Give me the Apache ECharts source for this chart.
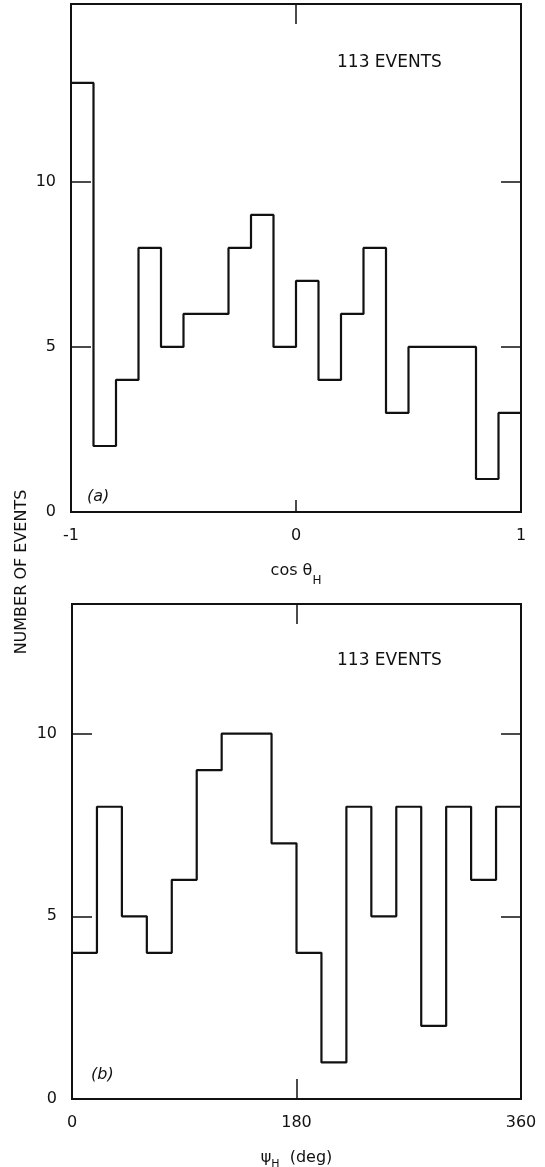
<!DOCTYPE html>
<html><head><meta charset="utf-8">
<script src="https://cdn.jsdelivr.net/npm/echarts@6/dist/echarts.min.js"></script>
<style>html,body{margin:0;padding:0;background:#fff}#c{width:545px;height:1167px}</style>
</head><body><div id="c"></div>
<script>
// ---- data ----
const cosEdges = [-1,-0.9,-0.8,-0.7,-0.6,-0.5,-0.4,-0.3,-0.2,-0.1,0,0.1,0.2,0.3,0.4,0.5,0.6,0.7,0.8,0.9,1];
const cosCounts = [13,2,4,8,5,6,6,8,9,5,7,4,6,8,3,5,5,5,1,3];
const psiEdges = [0,20,40,60,80,100,120,140,160,180,200,220,240,260,280,300,320,340,360];
const psiCounts = [4,8,5,4,6,9,10,10,7,4,1,8,5,8,2,8,6,8];
const cosTickLabels = [-1,0,1];
const cosInnerTicks = [0];
const psiTickLabels = [0,180,360];
const psiInnerTicks = [180];
const countLabels = [0,5,10];
const countInnerTicks = [5,10];
const eventsText = '113 EVENTS';
const yTitle = 'NUMBER OF EVENTS';

const FONT = 'DejaVu Sans';
const INK = '#111';

function stepData(edges, counts) {
  const d = counts.map((c, i) => [edges[i], c]);
  d.push([edges[edges.length - 1], counts[counts.length - 1]]);
  return d;
}

function xAxes(gi, min, max, labels, inner, bottomTickLen, name, nameGap, rich) {
  return [
    {
      gridIndex: gi, type: 'value', min: min, max: max, position: 'bottom',
      axisLine: {show: false, onZero: false},
      splitLine: {show: false},
      axisTick: {show: true, inside: true, length: bottomTickLen, customValues: inner, lineStyle: {color: INK, width: 1.5}},
      axisLabel: {customValues: labels, margin: 16, fontSize: 16, color: INK, fontFamily: FONT},
      name: name, nameLocation: 'middle', nameGap: nameGap, nameMoveOverlap: false,
      nameTextStyle: {color: INK, fontFamily: FONT, rich: rich}
    },
    {
      gridIndex: gi, type: 'value', min: min, max: max, position: 'top',
      axisLine: {show: false, onZero: false},
      splitLine: {show: false},
      axisTick: {show: true, inside: true, length: 20, customValues: inner, lineStyle: {color: INK, width: 1.5}},
      axisLabel: {show: false}
    }
  ];
}

function yAxes(gi, max) {
  return [
    {
      gridIndex: gi, type: 'value', min: 0, max: max, position: 'left',
      axisLine: {show: false, onZero: false},
      splitLine: {show: false},
      axisTick: {show: true, inside: true, length: 20, customValues: countInnerTicks, lineStyle: {color: INK, width: 1.5}},
      axisLabel: {customValues: countLabels, margin: 15, fontSize: 16, color: INK, fontFamily: FONT}
    },
    {
      gridIndex: gi, type: 'value', min: 0, max: max, position: 'right',
      axisLine: {show: false, onZero: false},
      splitLine: {show: false},
      axisTick: {show: true, inside: true, length: 20, customValues: countInnerTicks, lineStyle: {color: INK, width: 1.5}},
      axisLabel: {show: false}
    }
  ];
}

const richA = {
  m: {fontSize: 16, lineHeight: 24, verticalAlign: 'top', fontFamily: FONT, color: INK},
  s: {fontSize: 12, lineHeight: 24, verticalAlign: 'bottom', fontFamily: FONT, color: INK}
};
const richB = {
  m: {fontSize: 16, lineHeight: 20, verticalAlign: 'top', fontFamily: FONT, color: INK},
  s: {fontSize: 11, lineHeight: 20, verticalAlign: 'bottom', fontFamily: FONT, color: INK}
};

const chart = echarts.init(document.getElementById('c'), null, {renderer: 'canvas'});
chart.setOption({
  backgroundColor: '#fff',
  animation: false,
  grid: [
    {left: 71, top: 4, width: 450, height: 508, show: true, borderColor: INK, borderWidth: 2, backgroundColor: 'transparent', outerBoundsMode: 'none', containLabel: false},
    {left: 72, top: 604, width: 449, height: 495, show: true, borderColor: INK, borderWidth: 2, backgroundColor: 'transparent', outerBoundsMode: 'none', containLabel: false}
  ],
  xAxis: [].concat(
    xAxes(0, -1, 1, cosTickLabels, cosInnerTicks, 12, '{m|cos θ}{s|H}', 51, richA),
    xAxes(1, 0, 360, psiTickLabels, psiInnerTicks, 20, '{m|ψ}{s|H}{m|  (deg)}', 51, richB)
  ),
  yAxis: [].concat(yAxes(0, 15.39), yAxes(1, 13.55)),
  series: [
    {
      type: 'line', xAxisIndex: 0, yAxisIndex: 0, step: 'end', showSymbol: false,
      lineStyle: {color: INK, width: 2.2}, data: stepData(cosEdges, cosCounts)
    },
    {
      type: 'line', xAxisIndex: 2, yAxisIndex: 2, step: 'end', showSymbol: false,
      lineStyle: {color: INK, width: 2.2}, data: stepData(psiEdges, psiCounts)
    }
  ],
  graphic: [
    {type: 'text', x: 337, y: 63, style: {text: eventsText, fontSize: 17, fontFamily: FONT, fill: INK, align: 'left', verticalAlign: 'middle'}},
    {type: 'text', x: 337, y: 661, style: {text: eventsText, fontSize: 17, fontFamily: FONT, fill: INK, align: 'left', verticalAlign: 'middle'}},
    {type: 'text', x: 87, y: 497, style: {text: '(a)', fontSize: 16, fontStyle: 'italic', fontFamily: FONT, fill: INK, align: 'left', verticalAlign: 'middle'}},
    {type: 'text', x: 91, y: 1075, style: {text: '(b)', fontSize: 16, fontStyle: 'italic', fontFamily: FONT, fill: INK, align: 'left', verticalAlign: 'middle'}},
    {type: 'text', x: 22, y: 572, rotation: Math.PI / 2, style: {text: yTitle, fontSize: 16, fontFamily: FONT, fill: INK, align: 'center', verticalAlign: 'middle'}}
  ]
});
</script>
</body></html>
